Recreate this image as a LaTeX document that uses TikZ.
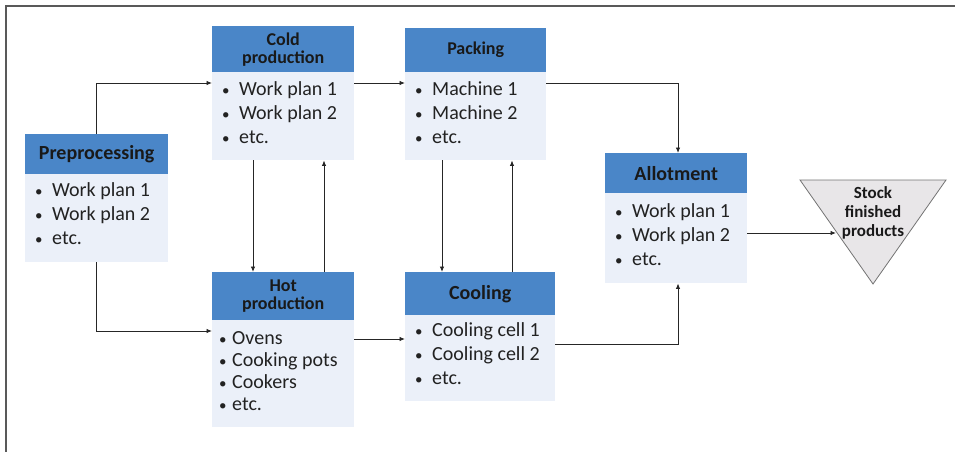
\documentclass[tikz,border=0pt]{standalone}
\usepackage{fontspec}
\setmainfont{Carlito}
\usetikzlibrary{calc,arrows.meta}
\definecolor{hdrblue}{HTML}{4A86C8}
\definecolor{bodyblue}{HTML}{EBF0F9}
\definecolor{stockgray}{HTML}{E8E6E8}
\definecolor{txtdark}{HTML}{222222}
\tikzset{
  hdr/.style={fill=hdrblue, draw=none, anchor=north west, inner sep=0pt,
    align=center, font=\fontsize{18}{18}\selectfont\bfseries, text=black!90},
  bighdr/.style={hdr, font=\fontsize{20}{20}\selectfont\bfseries},
  bodybox/.style={fill=bodyblue, draw=none, anchor=north west, inner sep=0pt},
  items/.style={anchor=north west, inner sep=0pt, align=left, text=txtdark,
    font=\fontsize{20}{24}\selectfont},
  flow/.style={draw=black!85, line width=0.9pt, -{Latex[length=5.5pt,width=4.5pt]}},
  frame/.style={draw=black!65, line width=1.2pt}
}
\newcommand{\itm}[1]{\makebox[17pt][l]{\fontsize{15}{15}\selectfont •}#1}
\newcommand{\itmt}[1]{\makebox[13pt][l]{\fontsize{15}{15}\selectfont •}#1}
\begin{document}
\begin{tikzpicture}[x=1pt,y=-1pt]
\useasboundingbox (0,0) rectangle (955,452);
% outer frame (top and left edges)
\draw[frame] (955,6) -- (6,6) -- (6,452);

% Preprocessing
\node[bighdr, minimum width=143pt, minimum height=40pt] (preh) at (25,134) {Preprocessing};
\node[bodybox, minimum width=143pt, minimum height=88pt] (preb) at (25,174) {};
\node[items] (prei) at (35,182) {\itm{Work plan 1}\\\itm{Work plan 2}\\\itm{etc.}};

% Cold production
\node[hdr, minimum width=142pt, minimum height=46pt] (coldh) at (212,26) {Cold\\production};
\node[bodybox, minimum width=142pt, minimum height=88pt] (coldb) at (212,72) {};
\node[items] (coldi) at (222,81) {\itm{Work plan 1}\\\itm{Work plan 2}\\\itm{etc.}};

% Packing
\node[hdr, minimum width=141pt, minimum height=44pt] (packh) at (405,28) {Packing};
\node[bodybox, minimum width=141pt, minimum height=88pt] (packb) at (405,72) {};
\node[items] (packi) at (415,81) {\itm{Machine 1}\\\itm{Machine 2}\\\itm{etc.}};

% Hot production
\node[hdr, minimum width=142pt, minimum height=48pt] (hoth) at (212,272) {Hot\\production};
\node[bodybox, minimum width=142pt, minimum height=107pt] (hotb) at (212,320) {};
\node[items, font=\fontsize{20}{22}\selectfont] (hoti) at (219,331) {\itmt{Ovens}\\\itmt{Cooking pots}\\\itmt{Cookers}\\\itmt{etc.}};

% Cooling
\node[bighdr, minimum width=150pt, minimum height=43pt] (coolh) at (405,272) {Cooling};
\node[bodybox, minimum width=150pt, minimum height=86pt] (coolb) at (405,315) {};
\node[items] (cooli) at (415,322) {\itm{Cooling cell 1}\\\itm{Cooling cell 2}\\\itm{etc.}};

% Allotment
\node[bighdr, minimum width=142pt, minimum height=40pt] (alloth) at (605,153) {Allotment};
\node[bodybox, minimum width=142pt, minimum height=90pt] (allotb) at (605,193) {};
\node[items] (alloti) at (615,203) {\itm{Work plan 1}\\\itm{Work plan 2}\\\itm{etc.}};

% Stock of finished products
\draw[fill=stockgray, draw=black!55, line width=0.8pt] (800,180) -- (946,180) -- (873,284) -- cycle;
\coordinate (stockin) at (836,233);
\node[align=center, inner sep=0pt, font=\fontsize{17}{19}\selectfont\bfseries, text=black!90] (stock) at (873,213) {Stock\\finished\\products};

% Connectors
\draw[flow] (preh.north -| 96,0) |- (coldb.west |- 0,83);
\draw[flow] (preb.south -| 96,0) |- (hotb.west |- 0,331);
\draw[flow] (coldb.east |- 0,83) -- (packb.west |- 0,83);
\draw[flow] (coldb.south -| 253,0) -- (hoth.north -| 253,0);
\draw[flow] (hoth.north -| 324,0) -- (coldb.south -| 324,0);
\draw[flow] (packb.south -| 442,0) -- (coolh.north -| 442,0);
\draw[flow] (coolh.north -| 512,0) -- (packb.south -| 512,0);
\draw[flow] (packb.east |- 0,83) -| (alloth.north -| 678,0);
\draw[flow] (hotb.east |- 0,339) -- (coolb.west |- 0,339);
\draw[flow] (coolb.east |- 0,344) -| (allotb.south -| 678,0);
\draw[flow] (allotb.east |- 0,233) -- (stockin);
\end{tikzpicture}
\end{document}
